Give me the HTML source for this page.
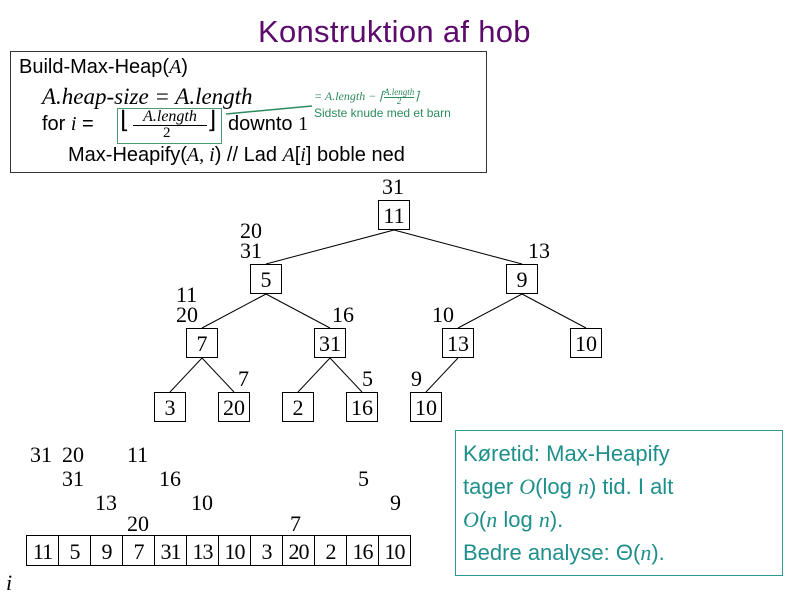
<!DOCTYPE html>
<html><head><meta charset="utf-8"><style>
body{margin:0;width:786px;height:593px;background:#fff;position:relative;overflow:hidden;font-family:"Liberation Sans",sans-serif}
.a{position:absolute;white-space:nowrap}
.n{position:absolute;width:30px;height:28px;border:1px solid #000;font:22px "Liberation Serif",serif;text-align:center;line-height:29px;box-sizing:content-box}
.t{position:absolute;font:22px "Liberation Serif",serif;line-height:22px}
.m{font-family:"Liberation Serif",serif;font-style:italic}
.c{position:absolute;top:535px;height:29px;width:31px;border:1px solid #000;font:22px "Liberation Serif",serif;text-align:center;line-height:31px;letter-spacing:-1px}
</style></head><body>
<div class="a" style="left:258px;top:14px;font-size:31px;color:#5c0a6b;letter-spacing:0.3px">Konstruktion af hob</div>
<div class="a" style="left:10px;top:51px;width:475px;height:120px;border:1.5px solid #333"></div>
<div class="a" style="left:19px;top:56px;font-size:20px">Build-Max-Heap(<span class="m">A</span>)</div>
<div class="a m" style="left:42px;top:84px;font-size:23px">A.heap-size = A.length</div>
<div class="a" style="left:42px;top:113px;font-size:20px">for <span class="m">i</span> =</div>
<div class="a" style="left:117px;top:108px;width:103px;height:34px;border:1.5px solid #4c9a73"></div>
<div class="a" style="left:120px;top:106px;font-size:24px;font-family:'Liberation Serif',serif">⌊</div>
<div class="a m" style="left:133px;top:109px;width:74px;text-align:center;font-size:16px;border-bottom:1px solid #000;line-height:16px">A.length</div>
<div class="a" style="left:163px;top:125px;font-size:15px;font-family:'Liberation Serif',serif">2</div>
<div class="a" style="left:207px;top:106px;font-size:24px;font-family:'Liberation Serif',serif">⌋</div>
<div class="a" style="left:228px;top:113px;font-size:20px">downto <span style="font-family:'Liberation Serif',serif">1</span></div>
<div class="a" style="left:68px;top:144px;font-size:20px">Max-Heapify(<span class="m">A, i</span>) // Lad <span class="m">A</span>[<span class="m">i</span>] boble ned</div>
<svg class="a" style="left:0;top:0" width="786" height="593">
<line x1="226" y1="114" x2="312" y2="106" stroke="#2d8a5e" stroke-width="1.5"/>
<g stroke="#000" stroke-width="1">
<line x1="394" y1="230" x2="266" y2="264"/><line x1="394" y1="230" x2="522" y2="264"/>
<line x1="266" y1="294" x2="202" y2="328"/><line x1="266" y1="294" x2="330" y2="328"/>
<line x1="522" y1="294" x2="458" y2="328"/><line x1="522" y1="294" x2="586" y2="328"/>
<line x1="202" y1="358" x2="170" y2="392"/><line x1="202" y1="358" x2="234" y2="392"/>
<line x1="330" y1="358" x2="298" y2="392"/><line x1="330" y1="358" x2="362" y2="392"/>
<line x1="458" y1="358" x2="426" y2="392"/>
</g></svg>
<div class="a m" style="left:314px;top:88px;font-size:12px;color:#2d8a5e">= A.length − ⌈<span style="display:inline-block;font-size:9px;line-height:9px;text-align:center;vertical-align:middle"><span style="border-bottom:1px solid #2d8a5e">A.length</span><br>2</span>⌉</div>
<div class="a" style="left:314px;top:106px;font-size:12px;color:#2d8a5e">Sidste knude med et barn</div>
<div class="n" style="left:378px;top:200px">11</div>
<div class="n" style="left:250px;top:264px">5</div><div class="n" style="left:506px;top:264px">9</div>
<div class="n" style="left:186px;top:328px">7</div><div class="n" style="left:314px;top:328px">31</div>
<div class="n" style="left:442px;top:328px">13</div><div class="n" style="left:570px;top:328px">10</div>
<div class="n" style="left:154px;top:392px">3</div><div class="n" style="left:218px;top:392px">20</div>
<div class="n" style="left:282px;top:392px">2</div><div class="n" style="left:346px;top:392px">16</div>
<div class="n" style="left:410px;top:392px">10</div>
<div class="t" style="left:382px;top:176px">31</div>
<div class="t" style="left:240px;top:220px">20</div><div class="t" style="left:240px;top:240px">31</div>
<div class="t" style="left:528px;top:240px">13</div>
<div class="t" style="left:176px;top:284px">11</div><div class="t" style="left:176px;top:304px">20</div>
<div class="t" style="left:332px;top:304px">16</div><div class="t" style="left:432px;top:304px">10</div>
<div class="t" style="left:238px;top:368px">7</div><div class="t" style="left:362px;top:368px">5</div>
<div class="t" style="left:411px;top:368px">9</div>
<div class="t" style="left:30px;top:444px">31</div><div class="t" style="left:62px;top:444px">20</div><div class="t" style="left:127px;top:444px">11</div>
<div class="t" style="left:62px;top:468px">31</div><div class="t" style="left:159px;top:468px">16</div><div class="t" style="left:358px;top:468px">5</div>
<div class="t" style="left:95px;top:492px">13</div><div class="t" style="left:191px;top:492px">10</div><div class="t" style="left:390px;top:492px">9</div>
<div class="t" style="left:127px;top:513px">20</div><div class="t" style="left:290px;top:513px">7</div>
<div class="c" style="left:26px">11</div><div class="c" style="left:58px">5</div><div class="c" style="left:90px">9</div>
<div class="c" style="left:122px">7</div><div class="c" style="left:154px">31</div><div class="c" style="left:186px">13</div>
<div class="c" style="left:218px">10</div><div class="c" style="left:250px">3</div><div class="c" style="left:282px">20</div>
<div class="c" style="left:314px">2</div><div class="c" style="left:346px">16</div><div class="c" style="left:378px">10</div>
<div class="t m" style="left:6px;top:572px">i</div>
<div class="a" style="left:455px;top:430px;width:326px;height:144px;border:1.5px solid #2a9a96"></div>
<div class="a" style="left:463px;top:437px;font-size:22px;line-height:33px;color:#1f8f8b">Køretid: Max-Heapify<br>tager <span class="m">O</span>(log <span class="m">n</span>) tid. I alt<br><span class="m">O</span>(<span class="m">n</span> log <span class="m">n</span>).<br>Bedre analyse: Θ(<span class="m">n</span>).</div>
</body></html>
